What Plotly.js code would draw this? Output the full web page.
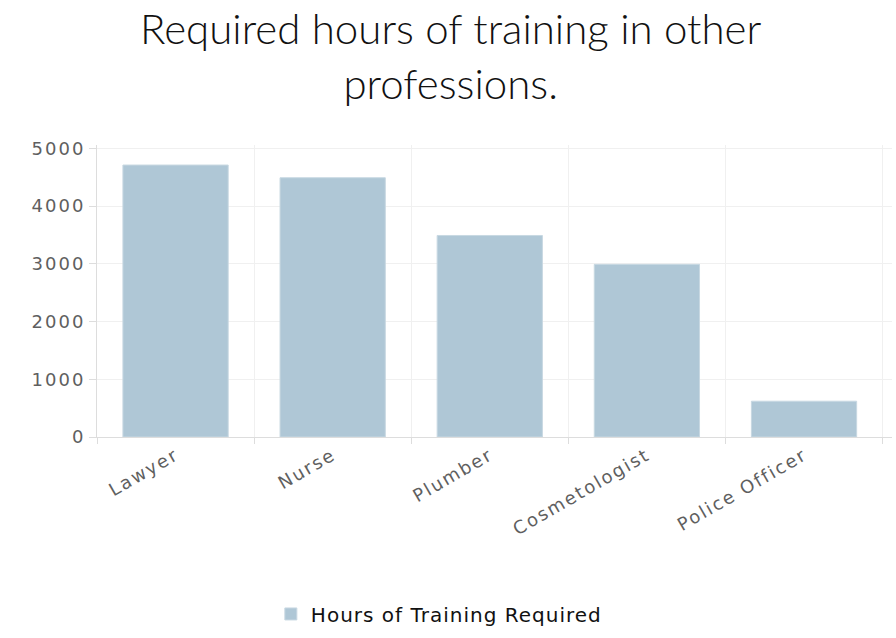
<!DOCTYPE html>
<html>
<head>
<meta charset="utf-8">
<script src="https://cdn.plot.ly/plotly-3.0.1.min.js"></script>
<style>
html,body{margin:0;padding:0;background:#fff;}
#chart{width:896px;height:638px;}
.xtick text,.ytick text{letter-spacing:2px;}
.legendtext{letter-spacing:1px;}
</style>
</head>
<body>
<div id="chart"></div>
<script>
const categories = ["Lawyer", "Nurse", "Plumber", "Cosmetologist", "Police Officer"];
const hours = [4710, 4490, 3490, 2990, 620];
const seriesName = "Hours of Training Required";
const yTicks = [0, 1000, 2000, 3000, 4000, 5000];

const trace = {
  type: "bar",
  x: categories,
  y: hours,
  name: seriesName,
  marker: {color: "#afc7d6", line: {color: "#c8d8e2", width: 1}},
  hoverinfo: "x+y"
};

const layout = {
  width: 896,
  height: 638,
  paper_bgcolor: "#fff",
  plot_bgcolor: "#fff",
  margin: {l: 97, r: 4, t: 145, b: 201},
  bargap: 0.33,
  showlegend: true,
  title: {
    text: "Required hours of training in other<br>professions.",
    font: {family: "Lato, 'Open Sans', sans-serif", size: 42, color: "#111", weight: 300},
    x: 0.503, xref: "container", xanchor: "center",
    y: 1, yref: "container", yanchor: "top",
    pad: {t: 44}
  },
  xaxis: {
    type: "category",
    range: [-0.5, 4.56],
    tickson: "boundaries",
    ticks: "outside",
    ticklen: 6,
    tickcolor: "#ddd",
    showgrid: true,
    gridcolor: "#f0f0f0",
    showline: true,
    linecolor: "#ddd",
    tickangle: -30,
    tickfont: {family: "'DejaVu Sans', Verdana, sans-serif", size: 18, color: "#5f5f5f"},
    fixedrange: true
  },
  yaxis: {
    range: [0, 5057],
    tickvals: yTicks,
    ticktext: yTicks.map(String),
    ticks: "outside",
    ticklen: 7,
    tickcolor: "#ddd",
    showgrid: true,
    gridcolor: "#f0f0f0",
    zeroline: false,
    showline: true,
    linecolor: "#ddd",
    tickfont: {family: "'DejaVu Sans', Verdana, sans-serif", size: 18, color: "#5f5f5f"},
    fixedrange: true
  },
  legend: {
    orientation: "h",
    x: 0.43, xanchor: "center",
    y: -0.606, yanchor: "middle",
    font: {family: "'DejaVu Sans', Verdana, sans-serif", size: 20, color: "#111"}
  }
};

Plotly.newPlot("chart", [trace], layout, {displayModeBar: false, responsive: false});
</script>
</body>
</html>
